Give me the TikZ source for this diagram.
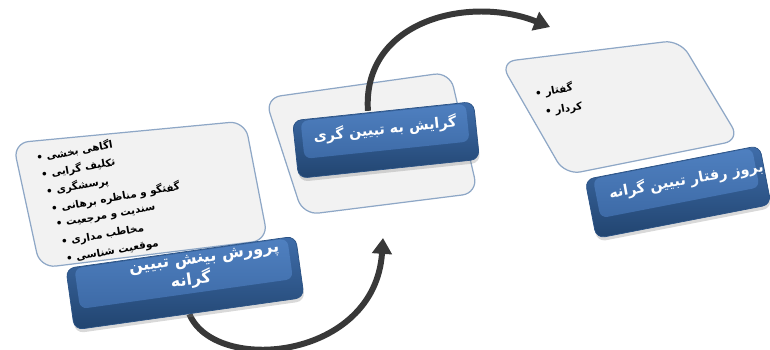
\documentclass[tikz,border=0pt]{standalone}
\usepackage{fontspec}
\newfontfamily\arabicfont[Script=Arabic]{DejaVu Sans}
\TeXXeTstate=1
\usetikzlibrary{arrows.meta,shadows,calc}
\definecolor{panelfill}{HTML}{F2F2F2}
\definecolor{panelline}{HTML}{8EA7C6}
\definecolor{keyhi}{HTML}{3F6DAA}
\definecolor{keylow}{HTML}{21446F}
\definecolor{keyedge}{HTML}{2A5285}
\definecolor{facetop}{HTML}{4F80C0}
\definecolor{facebot}{HTML}{3D6AA6}
\definecolor{flowgray}{HTML}{383838}
\pgfdeclarelayer{back}
\pgfdeclarelayer{mid}
\pgfsetlayers{back,mid,main}
\tikzset{
  panel/.style={draw=panelline,line width=0.7pt,fill=panelfill,rounded corners=9pt},
  keybase/.style={rounded corners=5pt,top color=keyhi,bottom color=keylow,draw=keyedge,line width=0.4pt,
    drop shadow={opacity=0.3,shadow xshift=0.5pt,shadow yshift=-2pt}},
  keyface/.style={rounded corners=4pt,top color=facetop,bottom color=facebot,inner sep=0pt},
  keylabel/.style={text=white,align=center,inner sep=0pt,font=\arabicfont\bfseries\fontsize{9.2}{12}\selectfont},
  smallkey/.style={font=\arabicfont\bfseries\fontsize{8.2}{10}\selectfont},
  item/.style={anchor=west,inner sep=0pt,font=\arabicfont\bfseries\fontsize{5.9}{7}\selectfont},
  flow/.style={line width=3.4pt,draw=flowgray,-{Triangle[length=9pt,width=11pt]}}
}
\begin{document}
\begin{tikzpicture}[x=0.02cm,y=-0.02cm]
  \useasboundingbox (0,0) rectangle (770,349);
  % panels
  \begin{pgfonlayer}{back}
    \draw[panel] (13,143) -- (245,121) -- (268,240) -- (40,268) -- cycle;
    \draw[panel] (265,98) -- (450,72) -- (478,193) -- (303,215) -- cycle;
    \draw[panel] (500,62) -- (680,40) -- (740,140) -- (565,175) -- cycle;
  \end{pgfonlayer}

  % left
  %list
  \foreach \txt [count=\i] in {اگاهی بخشی,تکلیف گرایی,پرسشگری,گفتگو و مناظره برهانی,
      سندیت و مرجعیت,مخاطب مداری,موقعیت شناسی}
    \node[item,rotate=10] (li\i) at ({31+5*\i},{141+17*\i}) {• \beginR\txt\endR};
  %key
  \node[keybase,rotate=8,minimum width=4.64cm,minimum height=1.24cm] (k1) at (185,283) {};
  \node[keyface,rotate=8,minimum width=4.3cm,minimum height=0.82cm] (k1f)
    at ($(k1.center)!0.3!(k1.north)$) {};
  \node[keylabel,rotate=8] (k1t) at ($(k1f.center)+(22,-4)$)
    {\beginR پرورش بینش تبیین\endR\\\beginR گرانه\endR\hspace*{2em}};

  % middle
  \node[keybase,rotate=6,minimum width=3.64cm,minimum height=1.16cm] (k2) at (386,140) {};
  \node[keyface,rotate=6,minimum width=3.32cm,minimum height=0.76cm] (k2f)
    at ($(k2.center)!0.3!(k2.north)$) {};
  \node[keylabel,smallkey,rotate=6] (k2t) at ($(k2f.center)+(0,-2)$) {\beginR گرایش به تبیین گری\endR};

  % right
  %list
  \node[item,rotate=10] (ri1) at (535,94) {• \beginR گفتار\endR};
  \node[item,rotate=10] (ri2) at (545,113) {• \beginR کردار\endR};
  %key
  \node[keybase,rotate=11,minimum width=3.56cm,minimum height=1.2cm] (k3) at (678,192) {};
  \node[keyface,rotate=11,minimum width=3.24cm,minimum height=0.8cm] (k3f)
    at ($(k3.center)!0.3!(k3.north)$) {};
  \node[keylabel,smallkey,rotate=10] (k3t) at ($(k3f.center)+(10,-3)$) {\beginR بروز رفتار تبیین گرانه\endR};

  % arrows
  \coordinate (tip2) at (383,238);
  \coordinate (tip3) at (550,27);
  \begin{pgfonlayer}{mid}
    \draw[flow] (k1.south) .. controls (215,375) and (375,360) .. (tip2);
    \draw[flow] ([xshift=-0.3cm]k2.north) .. controls (362,20) and (470,-5) .. (tip3);
  \end{pgfonlayer}
\end{tikzpicture}
\end{document}
